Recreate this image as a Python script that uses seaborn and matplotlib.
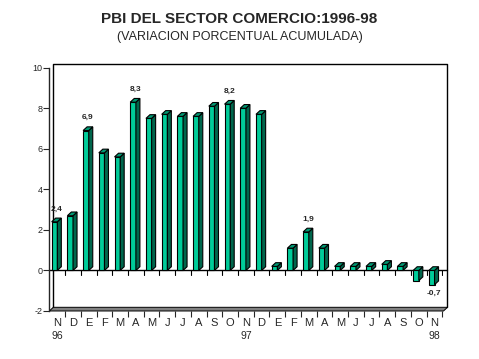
import numpy as np
import pandas as pd
import matplotlib
matplotlib.use('Agg')
import matplotlib.pyplot as plt
import seaborn as sns
from matplotlib.patches import Polygon
from matplotlib.transforms import ScaledTranslation

# Datos: variación porcentual acumulada del PBI comercio
meses = ['N', 'D', 'E', 'F', 'M', 'A', 'M', 'J', 'J', 'A', 'S', 'O', 'N', 'D',
         'E', 'F', 'M', 'A', 'M', 'J', 'J', 'A', 'S', 'O', 'N']
valores = [2.4, 2.7, 6.9, 5.8, 5.6, 8.3, 7.5, 7.7, 7.6, 7.6, 8.1, 8.2, 8.0, 7.7,
           0.2, 1.1, 1.9, 1.1, 0.2, 0.2, 0.2, 0.3, 0.2, -0.5, -0.7]
anios = {0: '96', 12: '97', 24: '98'}
etiquetas = {0: '2,4', 2: '6,9', 5: '8,3', 11: '8,2', 16: '1,9', 24: '-0,7'}

df = pd.DataFrame({'idx': range(len(valores)), 'valor': valores})

sns.set_style('white')
plt.rcParams['font.family'] = ['Liberation Sans', 'DejaVu Sans']

fig = plt.figure(figsize=(4.79, 3.59), dpi=100)
W, H = 479, 359
# plano frontal: x 49.3..443.5 px, y 67.7 (10) .. 311 (-2)
ax = fig.add_axes([49.3 / W, 1 - 311 / H, (443.5 - 49.3) / W, (311 - 67.7) / H])

frente = '#00CC99'
lado = '#00664C'
techo = '#009973'

sns.barplot(data=df, x='idx', y='valor', color=frente, width=0.36,
            saturation=1, edgecolor='black', linewidth=0.8, ax=ax, zorder=3)
ax.set_xlim(-0.33, 24.75)
ax.set_ylim(-2, 10)

# desplazamiento 3D en unidades de datos
dx = 4.0 / (ax.get_position().width * W / (24.75 + 0.33))
dy = 3.7 / (ax.get_position().height * H / 12)

# pared del fondo y piso
off = ax.transAxes + ScaledTranslation(4 / 100, 3.7 / 100, fig.dpi_scale_trans)
ax.plot([0, 0, 1, 1], [0, 1, 1, 0], color='black', lw=1.0, transform=off,
        clip_on=False, zorder=1)
x0, x1 = ax.get_xlim()
piso = Polygon([(x0, -2), (x1, -2), (x1 + dx, -2 + dy), (x0 + dx, -2 + dy)],
               closed=True, facecolor='#808080', edgecolor='black', lw=0.7,
               clip_on=False, zorder=2)
ax.add_patch(piso)
ax.plot([x0, x1 + dx], [0, 0], color='black', lw=1.0, clip_on=False, zorder=2)

# caras laterales y superiores
for bar in ax.patches[:len(valores)]:
    bx = bar.get_x()
    bw = bar.get_width()
    v = bar.get_height()
    top = max(v, 0)
    bot = min(v, 0)
    side = Polygon([(bx + bw, bot), (bx + bw, top), (bx + bw + dx, top + dy),
                    (bx + bw + dx, bot + dy)], closed=True, facecolor=lado,
                   edgecolor='black', lw=0.8, zorder=3)
    cap = Polygon([(bx, top), (bx + bw, top), (bx + bw + dx, top + dy),
                   (bx + dx, top + dy)], closed=True, facecolor=techo,
                  edgecolor='black', lw=0.8, zorder=3)
    ax.add_patch(side)
    ax.add_patch(cap)

# etiquetas de valores
for i, txt in etiquetas.items():
    v = valores[i]
    if v >= 0:
        ax.annotate(txt, (i + dx / 2, v + dy), xytext=(0, 4), textcoords='offset points',
                    ha='center', va='bottom', fontsize=6, fontweight='bold')
    else:
        ax.annotate(txt, (i + dx / 2, v), xytext=(0, -4), textcoords='offset points',
                    ha='center', va='top', fontsize=6, fontweight='bold')

# ejes
for s in ['top', 'right', 'bottom']:
    ax.spines[s].set_visible(False)
ax.spines['left'].set_linewidth(1.0)
ax.set_xlabel('')
ax.set_ylabel('')
ax.set_yticks(range(-2, 11, 2))
ax.set_yticklabels([str(t) for t in range(-2, 11, 2)], fontsize=6.5)
ax.tick_params(axis='y', direction='out', length=4, width=0.8, pad=1, left=True)

ax.set_xticks(range(len(meses)))
ax.set_xticklabels(meses, fontsize=8)
ax.tick_params(axis='x', length=0, pad=5)
ax.set_xticks(np.arange(len(meses)) + 0.5, minor=True)
ax.tick_params(axis='x', which='minor', direction='out', length=4, width=0.8, bottom=True)
shift = ScaledTranslation(2.8 / 100, 0, fig.dpi_scale_trans)
for lab in ax.get_xticklabels():
    lab.set_transform(lab.get_transform() + shift)
for t in ax.xaxis.get_minor_ticks():
    t.tick1line.set_transform(t.tick1line.get_transform() + shift)
# marcas en la línea cero
for i in range(len(meses)):
    ax.plot([i + 0.5 + 2.8 / 15.72] * 2, [0, -0.2], color='black', lw=0.8, zorder=2)

for i, a in anios.items():
    ax.text(i + 2.8 / 15.72, -2, a, ha='center', va='top', fontsize=7.5,
            transform=ax.transData + ScaledTranslation(0, -20 / 100, fig.dpi_scale_trans))

fig.text(0.5, 1 - 19 / H, 'PBI DEL SECTOR COMERCIO:1996-98', ha='center', va='center',
         fontsize=11, fontweight='bold')
fig.text(0.5, 1 - 37 / H, '(VARIACION PORCENTUAL ACUMULADA)', ha='center', va='center',
         fontsize=9)

fig.savefig('out.png', dpi=100)
